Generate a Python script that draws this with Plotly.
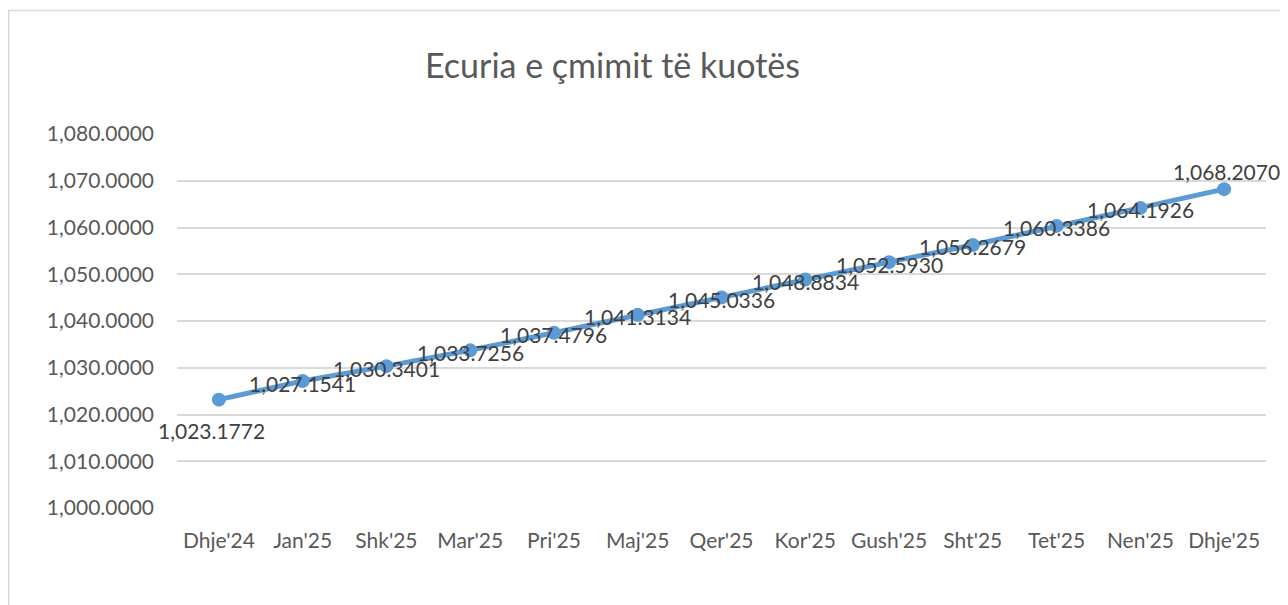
import plotly.graph_objects as go

categories = ["Dhje'24", "Jan'25", "Shk'25", "Mar'25", "Pri'25", "Maj'25", "Qer'25",
              "Kor'25", "Gush'25", "Sht'25", "Tet'25", "Nen'25", "Dhje'25"]
values = [1023.1772, 1027.1541, 1030.3401, 1033.7256, 1037.4796, 1041.3134, 1045.0336,
          1048.8834, 1052.5930, 1056.2679, 1060.3386, 1064.1926, 1068.2070]
y_ticks = [1000, 1010, 1020, 1030, 1040, 1050, 1060, 1070, 1080]
title_text = "Ecuria e çmimit të kuotës"

FONT = "Lato, Carlito, Calibri, sans-serif"
W, H = 1280, 597
ML, MR, MT, MB = 169, 22, 126, 97
pw, ph = W - ML - MR, H - MT - MB

fig = go.Figure()
fig.add_trace(go.Scatter(
    x=list(range(len(categories))), y=values, mode="lines+markers",
    line=dict(color="#5B9BD5", width=5),
    marker=dict(color="#5B9BD5", size=14),
    hoverinfo="skip", showlegend=False, cliponaxis=False,
))

for i, v in enumerate(values):
    xs, ys = 0, -2
    if i == 0:
        xs, ys = -7, -31
    elif i == len(values) - 1:
        xs, ys = 2, 18
    fig.add_annotation(x=i, y=v, text=f"{v:,.4f}", showarrow=False,
                       xshift=xs, yshift=ys,
                       font=dict(family=FONT, size=21, color="#404040"))

# chart border
fig.add_shape(type="rect", xref="paper", yref="paper",
              x0=(0.75 - ML) / pw, x1=1.2, y0=-0.5, y1=1 + (MT - 2.5) / ph,
              line=dict(color="#D9D9D9", width=1.5), fillcolor="rgba(0,0,0,0)", layer="below")

fig.add_annotation(xref="paper", yref="paper", x=(604 - ML) / pw, y=1 + (MT - 57) / ph,
                   text=title_text, showarrow=False, xanchor="center", yanchor="middle",
                   font=dict(family=FONT, size=34, color="#595959"))

fig.update_layout(
    width=W, height=H,
    margin=dict(l=ML, r=MR, t=MT, b=MB),
    paper_bgcolor="white", plot_bgcolor="white",
    font=dict(family=FONT, size=21, color="#595959"),
    xaxis=dict(range=[-0.5, len(categories) - 0.5], tickmode="array",
               tickvals=list(range(len(categories))), ticktext=categories,
               showgrid=False, zeroline=False, showline=False, ticks="",
               ticklabelstandoff=18,
               tickfont=dict(family=FONT, size=21, color="#595959")),
    yaxis=dict(range=[1000, 1080], tickmode="array", tickvals=y_ticks,
               tickformat=",.4f", showgrid=True, gridcolor="#D9D9D9", gridwidth=1.5,
               zeroline=False, showline=False, ticks="", ticklabelstandoff=22,
               tickfont=dict(family=FONT, size=21, color="#595959")),
)

fig.write_html("out.html")
